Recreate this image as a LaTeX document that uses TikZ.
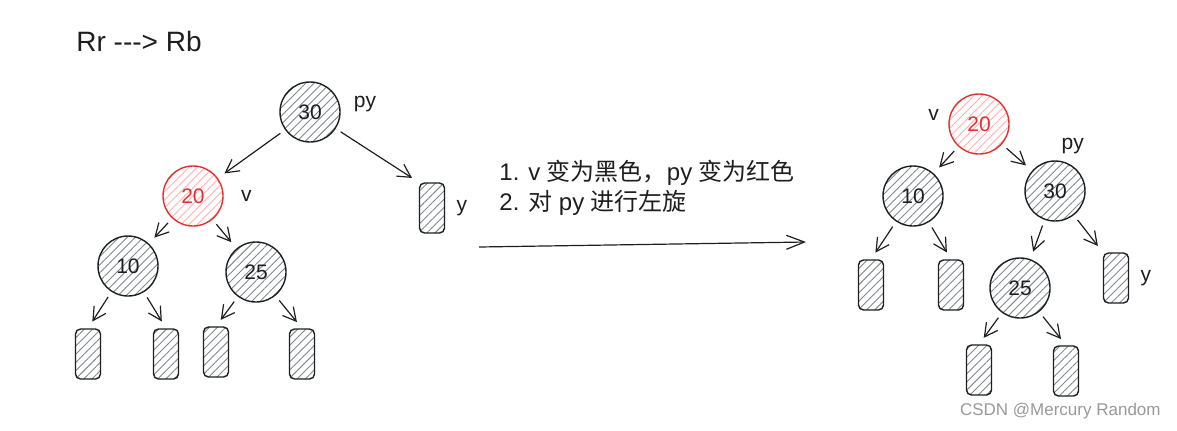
\documentclass[tikz,border=0pt]{standalone}
\usepackage{fontspec}
\setmainfont{Liberation Sans}
\newfontfamily\cjk{Noto Sans CJK SC}
\usetikzlibrary{arrows.meta, patterns.meta, positioning}

\definecolor{inkblack}{HTML}{1E1E1E}
\definecolor{hatchgray}{HTML}{7F8790}
\definecolor{inkred}{HTML}{E03131}
\definecolor{hatchred}{HTML}{FFB0B0}

\newcommand{\zh}[1]{{\cjk #1}}

\begin{document}
\begin{tikzpicture}[
    x=0.5pt, y=-0.5pt,
    hatch/.style={pattern={Lines[angle=45, distance=2.9pt, line width=0.45pt]}},
    blacknode/.style={circle, draw=inkblack, line width=0.7pt, hatch, pattern color=hatchgray, minimum size=30pt, inner sep=0pt, font=\fontsize{10.5}{12}\selectfont, text=inkblack},
    rednode/.style={blacknode, draw=inkred, pattern color=hatchred, text=inkred},
    leaf/.style={rectangle, rounded corners=2.5pt, draw=inkblack, line width=0.7pt, hatch, pattern color=hatchgray, minimum width=12.5pt, minimum height=25pt, inner sep=0pt},
    lbl/.style={inner sep=0pt, font=\fontsize{10.5}{12}\selectfont, text=inkblack},
    arrow/.style={-{Straight Barb[length=6.5pt, width=7pt]}, line width=0.6pt, draw=inkblack, shorten <=3pt, shorten >=4pt}
]
    \useasboundingbox (0,0) rectangle (1177,430);

    % Title
    \node[anchor=west, inner sep=0pt, font=\fontsize{14}{16}\selectfont, text=inkblack] (title) at (76,41) {Rr -\kern0pt-\kern0pt-> Rb};

    % Left tree: before
    \node[blacknode] (a30) at (310,112) {30};
    \node[rednode] (a20) at (193,196) {20};
    \node[leaf] (ay) at (432,208) {};
    \node[blacknode] (a10) at (128,266) {10};
    \node[blacknode] (a25) at (256,272) {25};
    \node[leaf] (al1) at (88,354) {};
    \node[leaf] (al2) at (166,354) {};
    \node[leaf] (al3) at (216,352) {};
    \node[leaf] (al4) at (302,354) {};

    \node[lbl, right=6.5pt of a30, yshift=4pt] (apy) {py};
    \node[lbl, right=8.5pt of a20] (av) {v};
    \node[lbl, right=5.5pt of ay] (ayl) {y};

    \draw[arrow] (a30) -- (a20);
    \draw[arrow] (a30) -- (ay.north west);
    \draw[arrow] (a20) -- (a10);
    \draw[arrow] (a20) -- (a25);
    \draw[arrow] (a10) -- (al1.north);
    \draw[arrow] (a10) -- (al2.north);
    \draw[arrow] (a25) -- (al3.north);
    \draw[arrow] (a25) -- (al4.north);

    % Steps
    \node[anchor=base west, inner sep=0pt, font=\fontsize{12}{15}\selectfont, text=inkblack] (step1) at (499,180) {1. v \zh{变为黑色，}py \zh{变为红色}};
    \node[anchor=base west, inner sep=0pt, font=\fontsize{12}{15}\selectfont, text=inkblack] (step2) at (499,210) {2. \zh{对} py \zh{进行左旋}};

    \coordinate (from) at (479,247);
    \coordinate (to) at (806,242);
    \draw[arrow, -{Straight Barb[length=9pt, width=7pt]}, shorten <=0pt, shorten >=0pt] (from) -- (to);

    % Right tree: after
    \node[rednode] (b20) at (979,124) {20};
    \node[blacknode] (b10) at (913,196) {10};
    \node[blacknode] (b30) at (1055,191) {30};
    \node[leaf] (bl1) at (871,285) {};
    \node[leaf] (bl2) at (951,285) {};
    \node[blacknode] (b25) at (1020,288) {25};
    \node[leaf] (by) at (1116,278) {};
    \node[leaf] (bl3) at (979,370) {};
    \node[leaf] (bl4) at (1066,371) {};

    \node[lbl, left=4.5pt of b20, yshift=4.5pt] (bv) {v};
    \node[lbl, above=7.5pt of b30.north east, xshift=-2pt] (bpy) {py};
    \node[lbl, right=5.5pt of by] (byl) {y};

    \draw[arrow] (b20) -- (b10);
    \draw[arrow] (b20) -- (b30);
    \draw[arrow] (b10) -- (bl1.north);
    \draw[arrow] (b10) -- (bl2.north);
    \draw[arrow] (b30) -- (b25);
    \draw[arrow] (b30) -- (by.north west);
    \draw[arrow] (b25) -- (bl3.north);
    \draw[arrow] (b25) -- (bl4.north);

    % Watermark
    \node[anchor=base east, inner sep=0pt, font=\fontsize{8.5}{10}\selectfont, text=black!40] (mark) at (1161,415) {CSDN @Mercury Random};
\end{tikzpicture}
\end{document}
